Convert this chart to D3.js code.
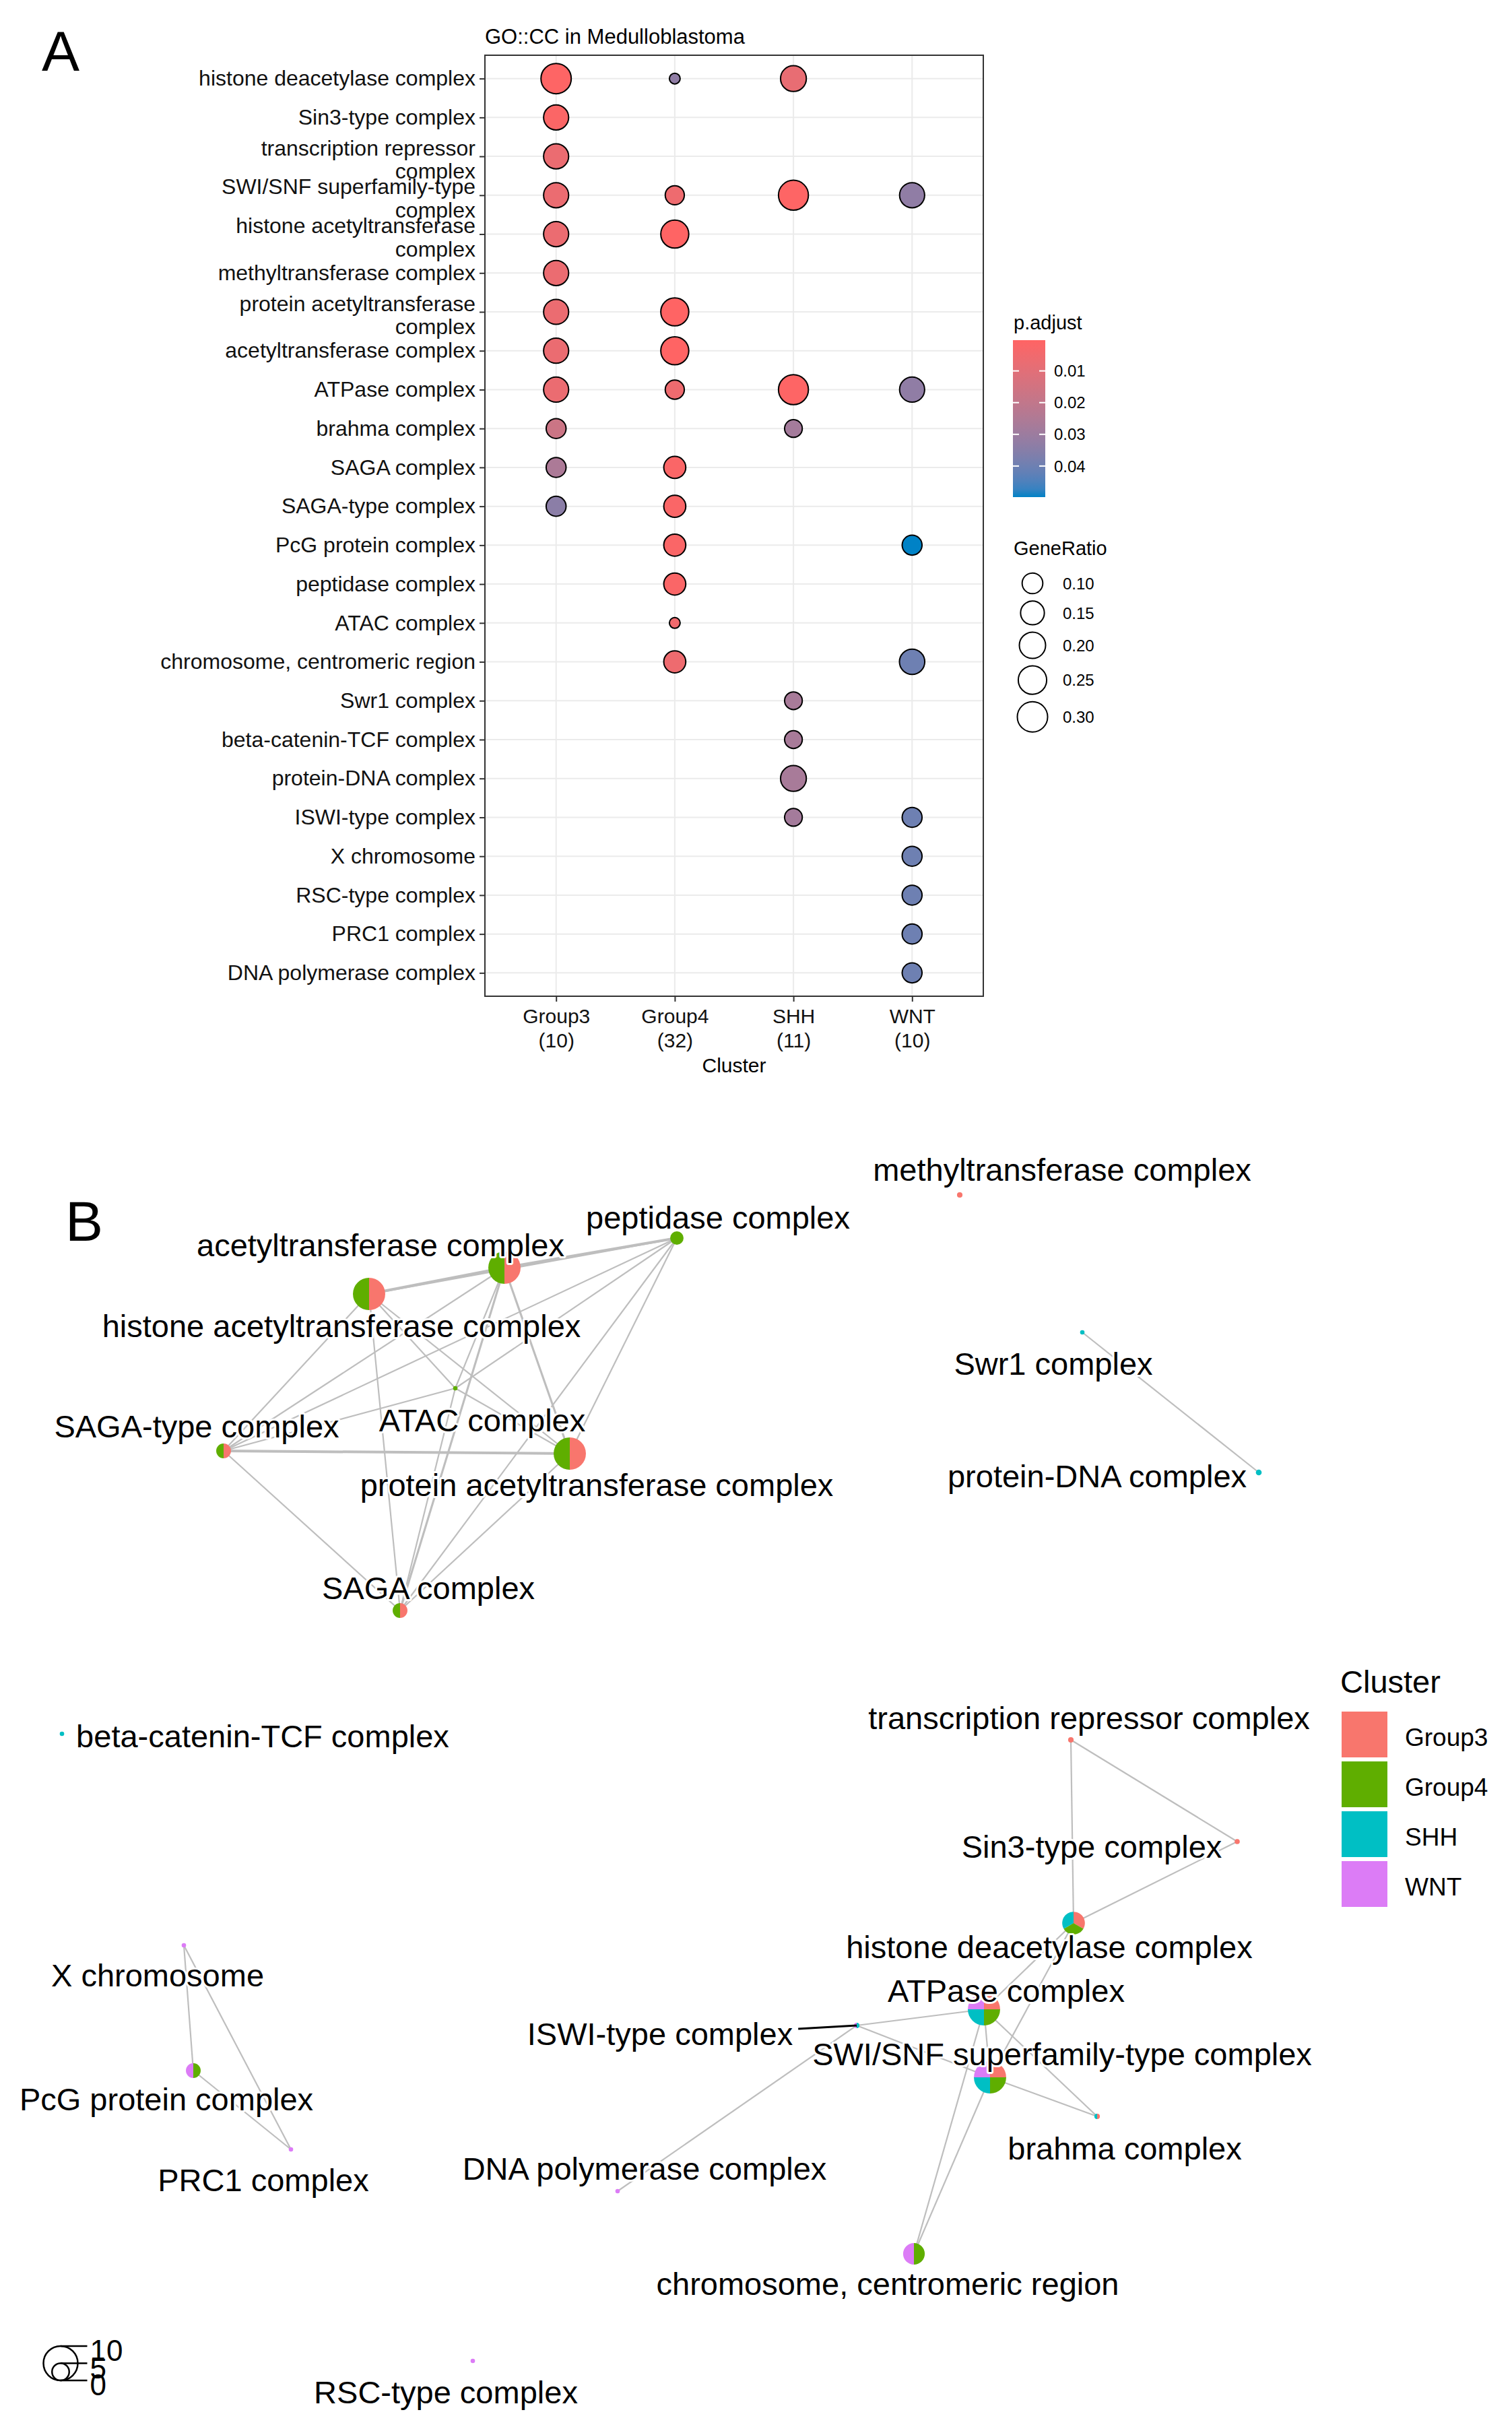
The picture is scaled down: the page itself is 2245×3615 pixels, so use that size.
<!DOCTYPE html>
<html><head><meta charset="utf-8">
<script src="https://cdn.jsdelivr.net/npm/d3@7"></script>
<style>
body{margin:0;background:#fff}
text{font-family:"Liberation Sans",Arial,sans-serif}
</style>
</head><body>
<svg id="c" width="2245" height="3615"></svg>
<script>
// ---------------- DATA ----------------
const terms = ["histone deacetylase complex","Sin3-type complex","transcription repressor complex",
 "SWI/SNF superfamily-type complex","histone acetyltransferase complex","methyltransferase complex",
 "protein acetyltransferase complex","acetyltransferase complex","ATPase complex","brahma complex",
 "SAGA complex","SAGA-type complex","PcG protein complex","peptidase complex","ATAC complex",
 "chromosome, centromeric region","Swr1 complex","beta-catenin-TCF complex","protein-DNA complex",
 "ISWI-type complex","X chromosome","RSC-type complex","PRC1 complex","DNA polymerase complex"];
const wrappedTerms = {
 "transcription repressor complex":["transcription repressor","complex"],
 "SWI/SNF superfamily-type complex":["SWI/SNF superfamily-type","complex"],
 "histone acetyltransferase complex":["histone acetyltransferase","complex"],
 "protein acetyltransferase complex":["protein acetyltransferase","complex"]
};
const clusters = ["Group3","Group4","SHH","WNT"];
const clusterSizes = [10,32,11,10];
const N = null;
const ratioGroup3 = [0.30,0.175,0.175,0.175,0.175,0.175,0.175,0.175,0.175,0.09,0.09,0.09,N,N,N,N,N,N,N,N,N,N,N,N];
const padjGroup3  = [0.0008,0.0015,0.007,0.007,0.007,0.007,0.007,0.007,0.007,0.017,0.026,0.034,N,N,N,N,N,N,N,N,N,N,N,N];
const ratioGroup4 = [0.03125,N,N,0.08,0.24,N,0.24,0.24,0.08,N,0.12,0.12,0.12,0.12,0.03125,0.12,N,N,N,N,N,N,N,N];
const padjGroup4  = [0.033,N,N,0.006,0.0003,N,0.0003,0.0003,0.006,N,0.002,0.002,0.002,0.002,0.005,0.006,N,N,N,N,N,N,N,N];
const ratioSHH = [0.19,N,N,0.29,N,N,N,N,0.29,0.065,N,N,N,N,N,N,0.065,0.065,0.19,0.065,N,N,N,N];
const padjSHH  = [0.008,N,N,0.0008,N,N,N,N,0.0008,0.028,N,N,N,N,N,N,0.027,0.027,0.027,0.028,N,N,N,N];
const ratioWNT = [N,N,N,0.175,N,N,N,N,0.175,N,N,N,0.09,N,N,0.18,N,N,N,0.09,0.09,0.09,0.09,0.09];
const padjWNT  = [N,N,N,0.033,N,N,N,N,0.033,N,N,N,0.0498,N,N,0.040,N,N,N,0.040,0.040,0.040,0.040,0.040];
const ratioByCluster = [ratioGroup3, ratioGroup4, ratioSHH, ratioWNT];
const padjByCluster = [padjGroup3, padjGroup4, padjSHH, padjWNT];
const padjTicks = [0.01,0.02,0.03,0.04];
const ratioBreaks = [0.10,0.15,0.20,0.25,0.30];

// network (enrichment map) – layout coordinates per term (same order as terms)
const layoutX = [797,918.5,795,735,274,712.5,423,374.5,730.5,814.5,297,166,143.5,502.5,338,678.5,803.5,46,934.5,636,136.5,351,216,458.5];
const layoutY = [577.5,517,441.5,692,110.5,37,229,91,641.5,721,345.5,227,687,69,180.5,823,139,437,243,653.5,594,902.5,745.5,776.5];
const labelX  = [779,810.5,808.5,788.5,253.5,788.5,443,282.5,747,835,318,146,123.5,533,358,659,782,195,814.5,490,117,331,195.5,478.5];
const labelY  = [595.5,521,425.5,675,134.5,18.5,252.5,74.5,628,745,329,209,708.5,54,204.5,845.5,162.5,439,246,660,616.5,926,768.5,760];
const labelSegment = terms.map(t => t === "ISWI-type complex");
const nodeSize = [6.6,1.5,1.6,9.4,9.4,1.6,9.4,9.4,9.4,1.6,4.3,4.3,4.3,3.9,1.3,6.3,1.3,1.3,1.7,1.6,1.3,1.3,1.3,1.3];
const edges = [
 [4,7,2],[4,6,1],[4,10,1],[4,11,1],[4,14,1],[4,13,1.5],
 [7,6,1.5],[7,10,1.5],[7,11,1],[7,14,1],[7,13,2],
 [6,10,1],[6,11,2],[6,14,1],[6,13,1],
 [10,11,1],[10,14,1],[10,13,1],
 [11,14,1],[11,13,1],[14,13,1],
 [2,1,1],[2,0,1],[1,0,1],[0,8,1],[0,3,1],[8,3,1],[8,19,1],[19,3,1],[8,9,1],[3,9,1],[8,15,1],[3,15,1],[19,23,1],
 [20,12,1],[20,22,1],[12,22,1],
 [16,18,1]
];
const clusterColors = ["#F8766D","#5FAE00","#00BFC4","#DC7CF6"];
const sizeLegendValues = [10,5,0];

// ---------------- DRAW ----------------
const svg = d3.select("#c");
svg.append("rect").attr("width",2245).attr("height",3615).attr("fill","#fff");
const FONT = '"Liberation Sans",Arial,sans-serif';

// Panel label A
svg.append("text").attr("x",62).attr("y",105).attr("font-size",84).text("A");

const px0=720, px1=1460, py0=82, py1=1479;
const x = d3.scalePoint().domain(clusters).range([px0,px1]).padding(0.6);
const y = d3.scalePoint().domain(terms).range([py0,py1]).padding(0.6);

// records
const recs=[];
clusters.forEach((c,ci)=>terms.forEach((t,ti)=>{
  const r=ratioByCluster[ci][ti];
  if(r!==null) recs.push({c,t,ratio:r,p:padjByCluster[ci][ti]});
}));
const pExt = d3.extent(recs,d=>d.p);
const color = d3.scaleLinear().domain(pExt).range(["#FF6464","#0082C6"]).interpolate(d3.interpolateLab);
const rExt = d3.extent(recs,d=>d.ratio);
const rLin = d3.scaleLinear().domain([0,1]).range([8,22.5]);
const size = v => rLin(Math.sqrt(Math.max(0,(v-rExt[0])/(rExt[1]-rExt[0]))));

// title
svg.append("text").attr("x",px0).attr("y",65).attr("font-size",31).attr("fill","#000").text("GO::CC in Medulloblastoma");

// grid
const grid = svg.append("g");
grid.selectAll("line.h").data(terms).join("line").attr("x1",px0).attr("x2",px1)
 .attr("y1",d=>y(d)).attr("y2",d=>y(d)).attr("stroke","#EBEBEB").attr("stroke-width",2);
grid.selectAll("line.v").data(clusters).join("line").attr("y1",py0).attr("y2",py1)
 .attr("x1",d=>x(d)).attr("x2",d=>x(d)).attr("stroke","#EBEBEB").attr("stroke-width",2);

// dots
svg.append("g").selectAll("circle").data(recs).join("circle")
 .attr("cx",d=>x(d.c)).attr("cy",d=>y(d.t)).attr("r",d=>size(d.ratio))
 .attr("fill",d=>color(d.p)).attr("stroke","#000").attr("stroke-width",2);

// border
svg.append("rect").attr("x",px0).attr("y",py0).attr("width",px1-px0).attr("height",py1-py0)
 .attr("fill","none").attr("stroke","#333").attr("stroke-width",2);

// y axis
const gy = svg.append("g").attr("transform",`translate(${px0},0)`).call(d3.axisLeft(y).tickSize(8).tickPadding(6));
gy.attr("font-family",FONT);
gy.select(".domain").remove();
gy.selectAll(".tick line").attr("stroke","#333").attr("stroke-width",2);
gy.selectAll(".tick text").each(function(d){
  const t=d3.select(this).attr("font-size",32).attr("fill","#111");
  const lines = wrappedTerms[d];
  if(lines){
    t.text(null).attr("dy",null);
    t.append("tspan").attr("x",-14).attr("dy","-0.06em").text(lines[0]);
    t.append("tspan").attr("x",-14).attr("dy","1.08em").text(lines[1]);
  }
});
// x axis
const gx = svg.append("g").attr("transform",`translate(0,${py1})`).call(d3.axisBottom(x).tickSize(8).tickPadding(11));
gx.attr("font-family",FONT);
gx.select(".domain").remove();
gx.selectAll(".tick line").attr("stroke","#333").attr("stroke-width",2);
gx.selectAll(".tick text").each(function(d,i){
  const t=d3.select(this).attr("font-size",30).attr("fill","#111").text(null);
  t.append("tspan").attr("x",0).text(d);
  t.append("tspan").attr("x",0).attr("dy","1.2em").text("("+clusterSizes[i]+")");
});
svg.append("text").attr("x",(px0+px1)/2).attr("y",1592).attr("text-anchor","middle").attr("font-size",30).text("Cluster");

// colorbar legend
const lgX=1504, barY0=505, barY1=738, barW=48;
svg.append("text").attr("x",lgX+1).attr("y",489).attr("font-size",29).text("p.adjust");
const grad = svg.append("defs").append("linearGradient").attr("id","pg").attr("x1",0).attr("x2",0).attr("y1",0).attr("y2",1);
d3.range(0,1.0001,0.05).forEach(f=>grad.append("stop").attr("offset",f).attr("stop-color",color(pExt[0]+f*(pExt[1]-pExt[0]))));
svg.append("rect").attr("x",lgX).attr("y",barY0).attr("width",barW).attr("height",barY1-barY0).attr("fill","url(#pg)");
const cy = d3.scaleLinear().domain(pExt).range([barY0,barY1]);
padjTicks.forEach(v=>{
  const yy=cy(v);
  svg.append("line").attr("x1",lgX).attr("x2",lgX+9).attr("y1",yy).attr("y2",yy).attr("stroke","#fff").attr("stroke-width",2);
  svg.append("line").attr("x1",lgX+barW-9).attr("x2",lgX+barW).attr("y1",yy).attr("y2",yy).attr("stroke","#fff").attr("stroke-width",2);
  svg.append("text").attr("x",lgX+61).attr("y",yy).attr("dy","0.36em").attr("font-size",24).text(v.toFixed(2));
});
// size legend
svg.append("text").attr("x",lgX+1).attr("y",824).attr("font-size",29).text("GeneRatio");
let cyPos = 866;
ratioBreaks.forEach((v,i)=>{
  const r=size(v);
  if(i>0) cyPos += size(ratioBreaks[i-1]) + r + 11;
  svg.append("circle").attr("cx",1533).attr("cy",cyPos).attr("r",r).attr("fill","none").attr("stroke","#000").attr("stroke-width",2);
  svg.append("text").attr("x",1578).attr("y",cyPos).attr("dy","0.36em").attr("font-size",24).text(v.toFixed(2));
});

// ---------------- Panel B ----------------
svg.append("text").attr("x",97).attr("y",1842).attr("font-size",84).text("B");
const nx = d3.scaleLinear().domain([0,1000]).range([0,2000]);
const ny = d3.scaleLinear().domain([0,1000]).range([1700,3700]);
const nr = d3.scaleLinear().domain([0,10]).range([0,25.5]);
const ew = d3.scaleLinear().domain([1,2]).range([2.2,4]);

const gE = svg.append("g");
edges.forEach(([a,b,w])=>{
  gE.append("line").attr("x1",nx(layoutX[a])).attr("y1",ny(layoutY[a]))
   .attr("x2",nx(layoutX[b])).attr("y2",ny(layoutY[b]))
   .attr("stroke","#BEBEBE").attr("stroke-width",ew(w));
});
// nodes as pies
const pie = d3.pie().sort(null).value(()=>1);
const gN = svg.append("g");
terms.forEach((t,i)=>{
  const present = clusters.map((c,ci)=>ratioByCluster[ci][i]!==null ? ci : -1).filter(v=>v>=0);
  const r = nr(nodeSize[i]);
  const arc = d3.arc().innerRadius(0).outerRadius(r);
  const g = gN.append("g").attr("transform",`translate(${nx(layoutX[i])},${ny(layoutY[i])})`);
  g.selectAll("path").data(pie(present)).join("path").attr("d",arc).attr("fill",d=>clusterColors[d.data]);
});
// label segments + labels
const gS = svg.append("g");
const gL = svg.append("g");
terms.forEach((t,i)=>{
  const tx = gL.append("text").attr("x",nx(labelX[i])).attr("y",ny(labelY[i])).attr("dy","0.35em")
    .attr("text-anchor","middle").attr("font-size",47).attr("fill","#000")
    .attr("stroke","#fff").attr("stroke-width",6).attr("stroke-linejoin","round").attr("paint-order","stroke")
    .text(t);
  if(labelSegment[i]){
    const w = tx.node().getComputedTextLength();
    gS.append("line")
      .attr("x1",nx(labelX[i])+w/2+8).attr("y1",ny(labelY[i])-8)
      .attr("x2",nx(layoutX[i])).attr("y2",ny(layoutY[i]))
      .attr("stroke","#000").attr("stroke-width",3);
  }
});

// Cluster legend
const clX=1992, clY0=2541, box=68, step=74;
svg.append("text").attr("x",clX-2).attr("y",2513).attr("font-size",47).text("Cluster");
clusters.forEach((c,i)=>{
  svg.append("rect").attr("x",clX).attr("y",clY0+i*step).attr("width",box).attr("height",box).attr("fill",clusterColors[i]);
  svg.append("text").attr("x",clX+94).attr("y",clY0+i*step+box/2).attr("dy","0.45em").attr("font-size",37).text(c);
});

// pie size legend
const slX=90, slBase=3534, maxR=nr(d3.max(sizeLegendValues));
sizeLegendValues.forEach(v=>{
  const r=nr(v);
  svg.append("circle").attr("cx",slX).attr("cy",slBase-r).attr("r",r).attr("fill","none").attr("stroke","#000").attr("stroke-width",2.5);
  svg.append("line").attr("x1",slX).attr("x2",slX+maxR+14).attr("y1",slBase-2*r).attr("y2",slBase-2*r).attr("stroke","#000").attr("stroke-width",2.5);
  svg.append("text").attr("x",slX+maxR+18).attr("y",slBase-2*r).attr("dy","0.5em").attr("font-size",44).text(v);
});
</script>
</body></html>
